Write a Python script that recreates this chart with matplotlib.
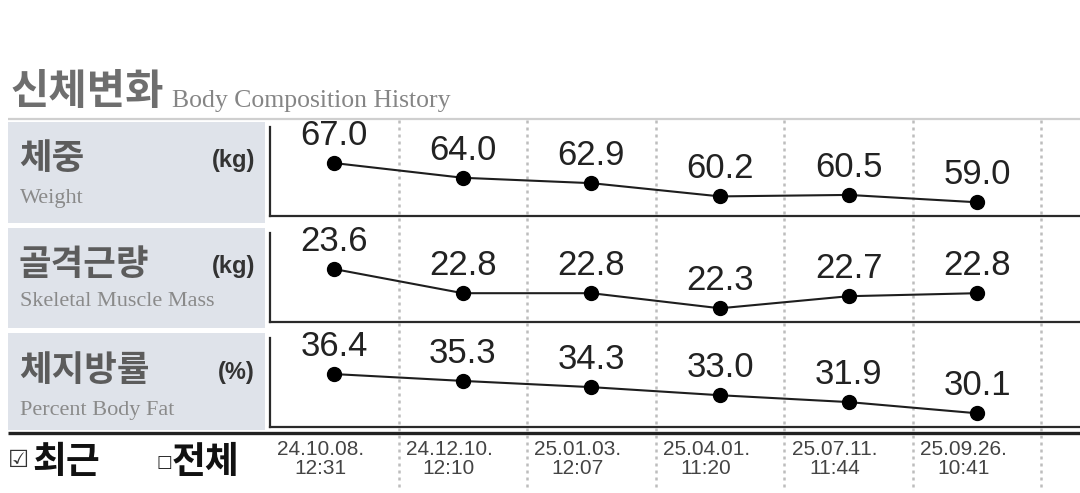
import matplotlib
matplotlib.use("Agg")
import matplotlib.pyplot as plt
from matplotlib.patches import Rectangle
from matplotlib.transforms import offset_copy

# ---------------- data ----------------
dates = ["24.10.08.\n12:31", "24.12.10.\n12:10", "25.01.03.\n12:07",
         "25.04.01.\n11:20", "25.07.11.\n11:44", "25.09.26.\n10:41"]
weight = [67.0, 64.0, 62.9, 60.2, 60.5, 59.0]
muscle = [23.6, 22.8, 22.8, 22.3, 22.7, 22.8]
fat_pct = [36.4, 35.3, 34.3, 33.0, 31.9, 30.1]

row_kr = ["체중", "골격근량", "체지방률"]
row_en = ["Weight", "Skeletal Muscle Mass", "Percent Body Fat"]
row_unit = ["(kg)", "(kg)", "(%)"]
series = [weight, muscle, fat_pct]

title_kr = "신체변화"
title_en = "Body Composition History"

# ---------------- figure ----------------
W, H = 1080, 493
fig = plt.figure(figsize=(W / 100, H / 100), dpi=100)
fig.patch.set_facecolor("white")

KR = ["Noto Sans CJK KR", "DejaVu Sans"]
SANS = ["Liberation Sans", "DejaVu Sans"]
SERIF = ["Liberation Serif", "DejaVu Serif"]

# decoration layer in pixel coords
deco = fig.add_axes([0, 0, 1, 1], zorder=0)
deco.set_xlim(0, W)
deco.set_ylim(H, 0)
deco.axis("off")

deco.text(11, 92, title_kr, family=KR, fontsize=30, fontweight="bold",
          color="#6e6e6e", va="center", ha="left")
deco.text(172, 107, title_en, family=SERIF, fontsize=18.5, color="#858585",
          va="baseline", ha="left")
deco.plot([8, W], [119, 119], color="#cfcfcf", lw=1.6, solid_capstyle="butt")

row_bg = [(122, 223), (228, 328), (333, 430)]
kr_y = [159, 265, 371]
en_y = [199, 302, 410]
for i in range(3):
    top, bot = row_bg[i]
    deco.add_patch(Rectangle((8, top), 257, bot - top, facecolor="#dfe3ea",
                             edgecolor="none"))
    deco.text(19, kr_y[i], row_kr[i], family=KR, fontsize=25.5, fontweight="bold",
              color="#5c5c5c", va="center", ha="left")
    deco.text(255, kr_y[i] + 2, row_unit[i], family=SANS, fontsize=17,
              fontweight="bold", color="#333333", va="center", ha="right")
    deco.text(20, en_y[i], row_en[i], family=SERIF, fontsize=16,
              color="#8a8a8a", va="center", ha="left")

deco.plot([8, W], [433, 433], color="#222222", lw=2.4, solid_capstyle="butt")

deco.text(8, 460, "☑", family=["DejaVu Sans"], fontsize=17, color="#333333",
          va="center", ha="left")
deco.text(32, 462, "최근", family=KR, fontsize=26.5, fontweight="bold",
          color="#111111", va="center", ha="left")
deco.text(156, 462, "□", family=["DejaVu Sans"], fontsize=12, color="#222222",
          va="center", ha="left")
deco.text(172, 462, "전체", family=KR, fontsize=26.5, fontweight="bold",
          color="#111111", va="center", ha="left")

# column layer: shares x scale with the rows
x = list(range(len(dates)))
XL = (-0.5, 5.8)
col = fig.add_axes([270 / W, 0, 1 - 270 / W, 1], zorder=1)
col.set_xlim(*XL)
col.set_ylim(H, 0)
col.axis("off")
col.vlines([v + 0.5 for v in x], 120, 490, colors="#bdbdbd", lw=1.8,
           linestyles=(0, (1.2, 1.6)))
tr = offset_copy(col.transData, fig=fig, x=-10, y=0, units="points")
for xi, d in zip(x, dates):
    col.text(xi, 459, d, transform=tr, family=SANS, fontsize=15, color="#444444",
             ha="center", va="center", linespacing=1.05)

# data rows
row_px = [(127, 216), (233, 322), (338, 427)]
for i, vals in enumerate(series):
    top, bot = row_px[i]
    ax = fig.add_axes([270 / W, 1 - bot / H, 1 - 270 / W, (bot - top) / H], zorder=2)
    ax.patch.set_visible(False)
    lo, hi = min(vals), max(vals)
    rng = hi - lo
    ax.set_ylim(lo - 0.35 * rng, hi + 0.92 * rng)
    ax.set_xlim(*XL)
    ax.plot(x, vals, color="#1e1e1e", lw=1.5, marker="o", markersize=10,
            markerfacecolor="#000000", markeredgecolor="#000000", zorder=3)
    for xi, v in zip(x, vals):
        ax.annotate(f"{v:.1f}", (xi, v), xytext=(0, 8), textcoords="offset points",
                    ha="center", va="bottom", family=SANS, fontsize=25,
                    color="#222222")
    for s in ["top", "right"]:
        ax.spines[s].set_visible(False)
    for s in ["left", "bottom"]:
        ax.spines[s].set_color("#2a2a2a")
        ax.spines[s].set_linewidth(1.6)
    ax.set_xticks([])
    ax.set_yticks([])

fig.savefig("out.png", dpi=100, facecolor="white")
